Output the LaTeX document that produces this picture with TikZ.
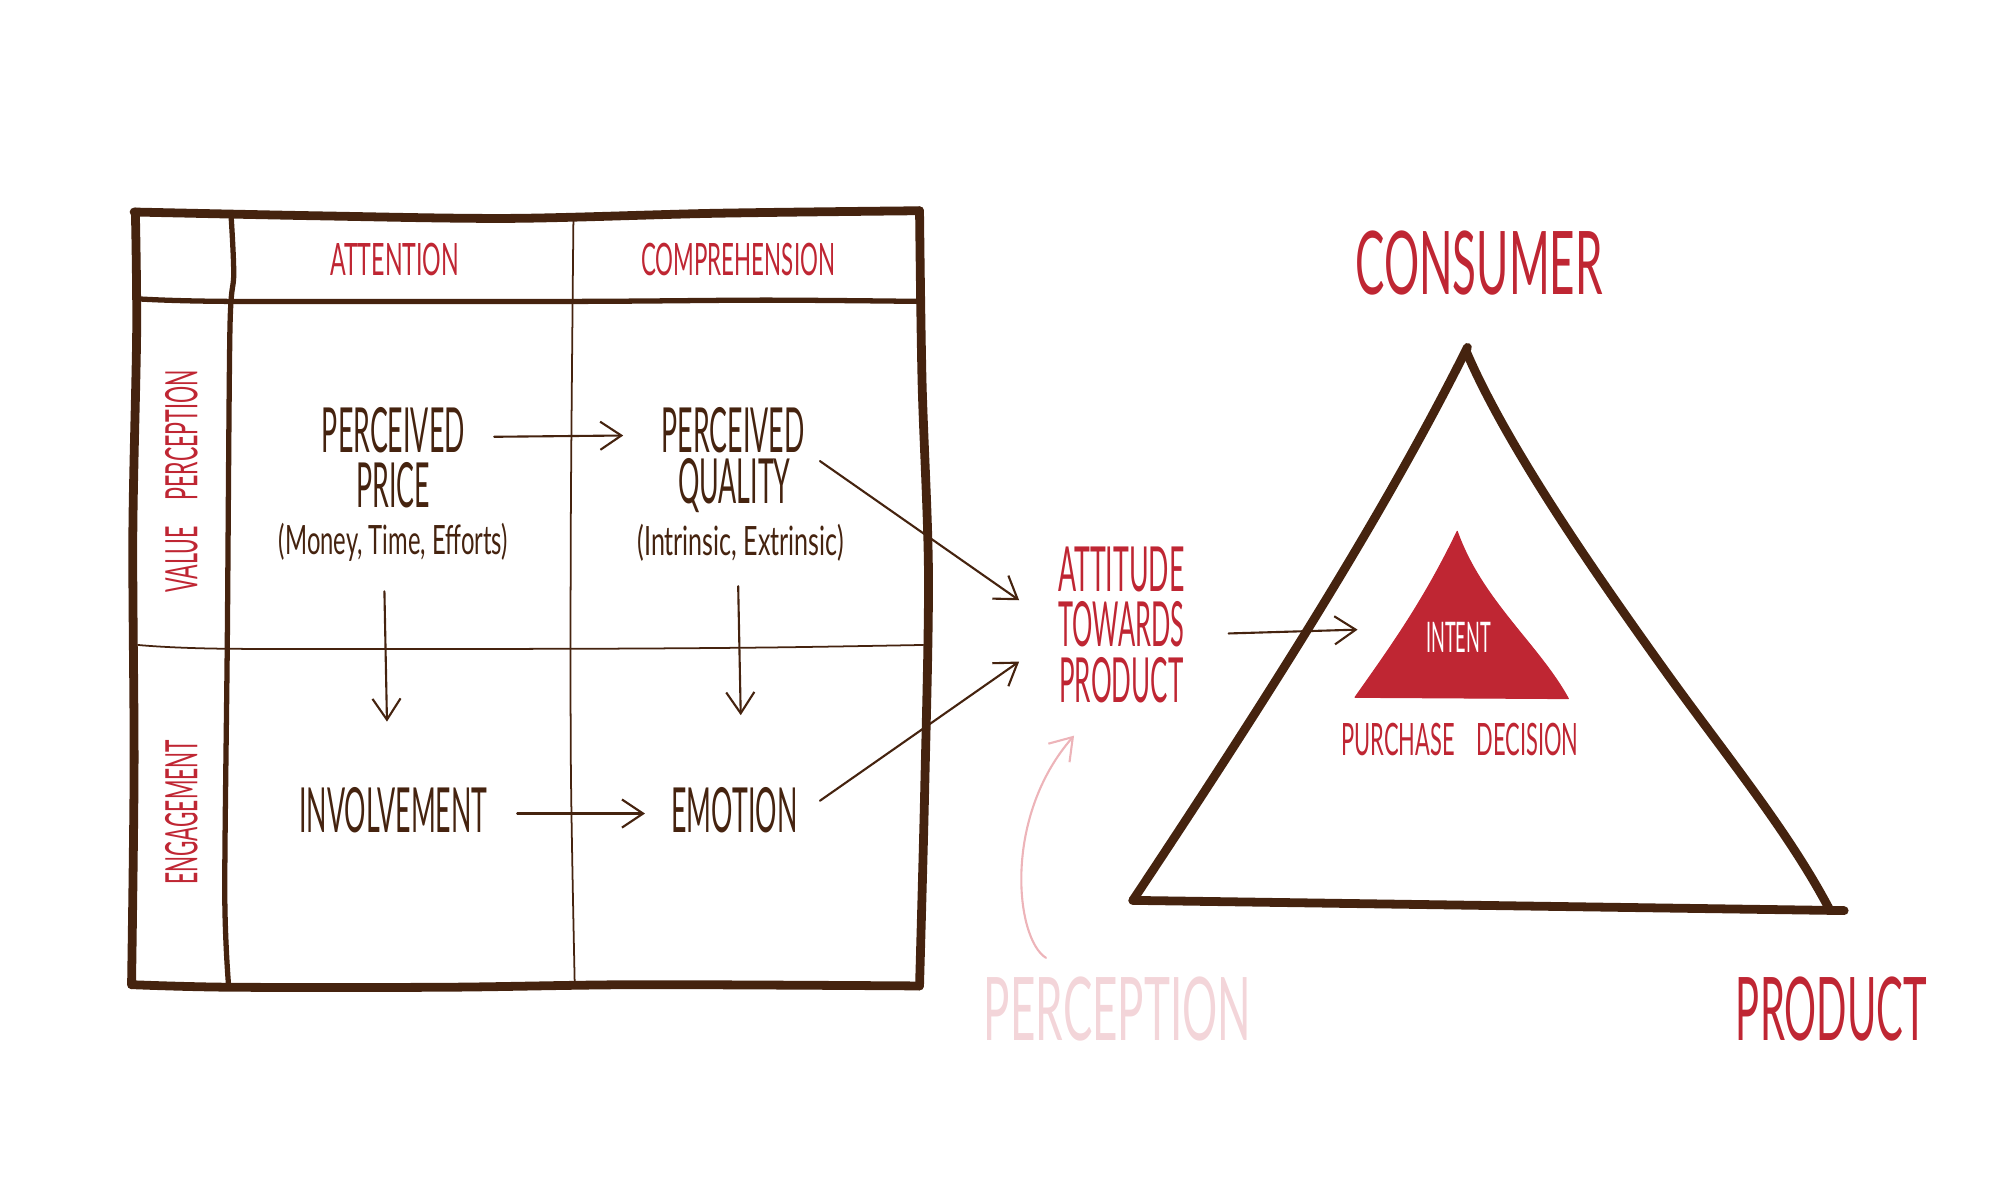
\documentclass[tikz,border=0pt]{standalone}
\usepackage{fontspec}
\usetikzlibrary{arrows.meta}
\newfontfamily\handfont[FakeStretch=0.5]{Lato}
\newfontfamily\narrowfont[FakeStretch=0.43]{Lato}
\newfontfamily\widefont[FakeStretch=0.62]{Lato}

\definecolor{barkbrown}{HTML}{45230F}
\definecolor{inkred}{HTML}{BF2633}
\definecolor{palepink}{HTML}{F3D5D9}
\definecolor{arrowpink}{HTML}{EDB4B9}

\tikzset{
    every node/.style={inner sep=0pt},
    heavyline/.style={barkbrown, line width=2.5pt},
    midline/.style={barkbrown, line width=1.5pt},
    hairline/.style={barkbrown, line width=0.5pt},
    flowarrow/.style={barkbrown, line width=0.6pt, -{Straight Barb[length=6pt,width=8pt]}},
    cellhead/.style={inkred, font=\handfont\fontsize{12.7}{14}\selectfont},
    bigcell/.style={barkbrown, font=\narrowfont\fontsize{17.7}{20}\selectfont},
    smallcell/.style={barkbrown, font=\widefont\fontsize{11.5}{13}\selectfont},
    attitude/.style={inkred, font=\narrowfont\fontsize{17.7}{20}\selectfont},
    bigword/.style={font=\handfont\fontsize{25}{28}\selectfont}
}

\begin{document}
\begin{tikzpicture}[x=0.012771cm,y=-0.012771cm,line cap=round,line join=round]
    \useasboundingbox (0,0) rectangle (1566,939.6);

    % draw the outer frame
    \draw[heavyline] plot[smooth,tension=.5] coordinates {(105,166) (250,169) (400,171) (560,167) (720,165)};
    \draw[heavyline] plot[smooth,tension=.5] coordinates {(720,165) (722,300) (727,450) (724,620) (720,772)};
    \draw[heavyline] plot[smooth,tension=.5] coordinates {(103,771) (180,773) (350,773) (500,771) (720,772)};
    \draw[heavyline] plot[smooth,tension=.5] coordinates {(106,166) (107,260) (104,420) (105,600) (103,771)};

    % draw the inner rules
    \draw[midline] plot[smooth,tension=.5] coordinates {(108,234) (180,236) (450,236) (600,235) (720,236)};
    \draw[midline] plot[smooth,tension=.5] coordinates {(181,170) (183,215) (180,260) (178,500) (176,700) (179,772)};
    \draw[hairline] plot[smooth,tension=.5] coordinates {(449,171) (447,400) (447,600) (450,770)};
    \draw[hairline] plot[smooth,tension=.5] coordinates {(108,505) (180,508) (447,508) (600,507) (723,505)};

    % column and row titles
    \node[cellhead,xscale=1.04,transform shape] (attention) at (309,203) {ATTENTION};
    \node[cellhead] (comprehension) at (578,203) {COMPREHENSION};
    \node[cellhead,rotate=90,xscale=.96,transform shape] (valueperception) at (142,377) {VALUE\hspace{.6em}PERCEPTION};
    \node[cellhead,rotate=90,xscale=.94,transform shape] (engagement) at (142,636) {ENGAGEMENT};

    % text in the cells
    \node[bigcell] (perceived1) at (308,337) {PERCEIVED};
    \node[bigcell] (price) at (308,380) {PRICE};
    \node[smallcell,xscale=.95,transform shape] (money) at (308,425) {(Money, Time, Efforts)};
    \node[bigcell] (perceived2) at (574,337) {PERCEIVED};
    \node[bigcell] (quality) at (575,380) {QUALITY};
    \node[smallcell] (intrinsic) at (580,425) {(Intrinsic, Extrinsic)};
    \node[bigcell] (involvement) at (308,634) {INVOLVEMENT};
    \node[bigcell] (emotion) at (575,634) {EMOTION};

    % text in the middle
    \node[attitude] (attitude1) at (878,446) {ATTITUDE};
    \node[attitude,xscale=.95,transform shape] (towards) at (878,489) {TOWARDS};
    \node[attitude,xscale=.97,transform shape] (product1) at (878,533) {PRODUCT};
    \node[bigword,palepink] (perception) at (875,790) {PERCEPTION};

    % draw the big triangle
    \coordinate (apex) at (1149,272);
    \coordinate (leftfoot) at (887,705);
    \coordinate (rightfoot) at (1444,713);
    \draw[heavyline] (apex) .. controls (1090,390) and (1010,520) .. (leftfoot);
    \draw[heavyline] (1148,275) .. controls (1180,350) and (1250,450) .. (1300,520) .. controls (1350,590) and (1400,650) .. (1433,713);
    \draw[heavyline] (leftfoot) -- (rightfoot);

    % draw the small triangle
    \filldraw[inkred,line width=0.3pt] (1141,416) .. controls (1115,470) and (1090,505) .. (1061,546) -- (1228,547) .. controls (1205,505) and (1160,470) .. cycle;
    \node[white,font=\narrowfont\fontsize{12}{14}\selectfont] (intent) at (1142,499) {INTENT};
    \node[cellhead,xscale=.98,transform shape] (decision) at (1143,579) {PURCHASE\hspace{.5em}DECISION};

    % the corner words
    \node[bigword,inkred] (consumer) at (1158,206) {CONSUMER};
    \node[bigword,inkred,xscale=.91,transform shape] (product2) at (1434,790) {PRODUCT};

    % arrows
    \draw[flowarrow] ([shift={(79,5)}]perceived1.center) -- ([shift={(-86,4)}]perceived2.center);
    \draw[flowarrow] ([shift={(-7,38)}]money.center) -- ([shift={(-5,-69)}]involvement.center);
    \draw[flowarrow] ([shift={(-2,34)}]intrinsic.center) -- ([shift={(5,-74)}]emotion.center);
    \draw[flowarrow] ([shift={(97,3)}]involvement.center) -- ([shift={(-70,3)}]emotion.center);
    \draw[flowarrow] ([shift={(67,-19)}]quality.center) -- ([shift={(-80,24)}]attitude1.center);
    \draw[flowarrow] ([shift={(67,-7)}]emotion.center) -- ([shift={(-80,-15)}]product1.center);
    \draw[flowarrow] ([shift={(84,7)}]towards.center) -- ([shift={(-79,-6)}]intent.center);
    \draw[arrowpink,line width=0.6pt,-{Straight Barb[length=6pt,width=8pt]}] ([shift={(-56,-40)}]perception.center) .. controls (795,735) and (785,640) .. ([shift={(-37,43)}]product1.center);
\end{tikzpicture}
\end{document}
